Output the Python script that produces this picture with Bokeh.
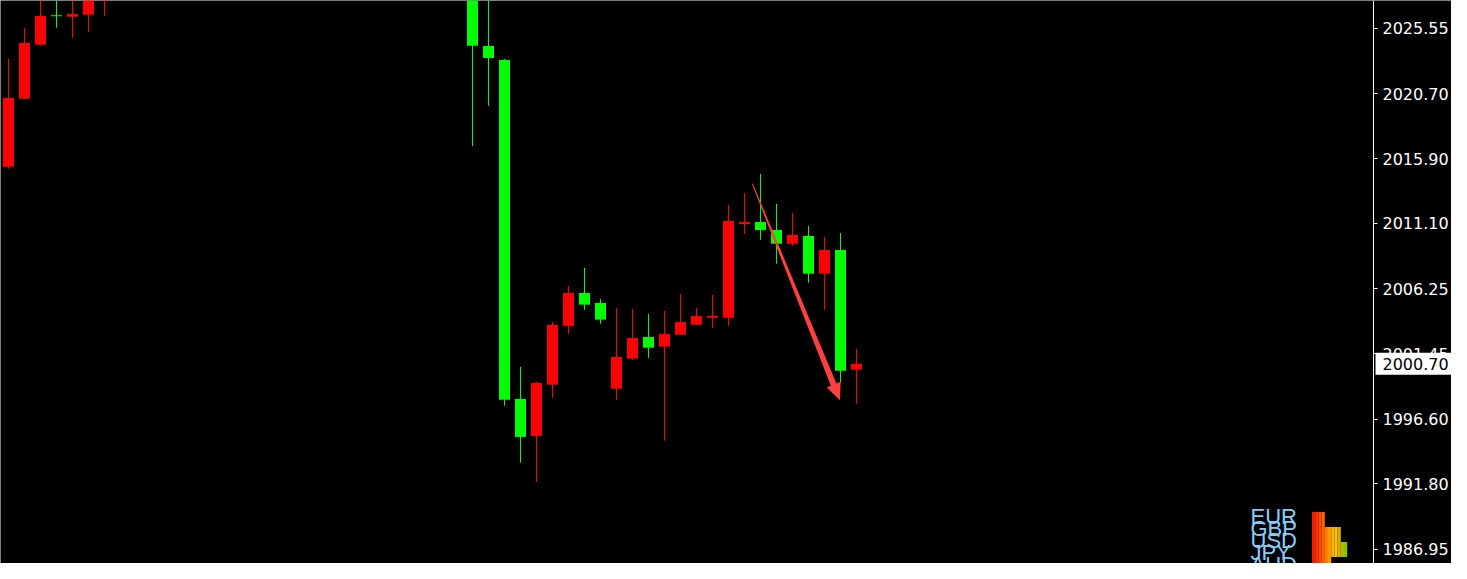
import math
from bokeh.plotting import figure
from bokeh.models import Range1d, FixedTicker, Label, ColumnDataSource, PrintfTickFormatter
from bokeh.embed import file_html
from bokeh.resources import INLINE

# ---------------- data ----------------
bar_index = [0, 1, 2, 3, 4, 5, 6] + list(range(29, 54))
opens = [2015.30, 2020.34, 2024.34, 2026.52, 2026.41, 2026.56, 2028.10,
         2028.60, 2024.24, 2023.20, 1998.09, 1995.35, 1999.15, 2003.50, 2005.94,
         2005.20, 1998.85, 2001.08, 2002.68, 2001.97, 2002.85, 2003.59, 2004.11,
         2004.11, 2011.05, 2011.20, 2010.61, 2009.59, 2010.16, 2007.37, 2009.13, 2000.26]
highs = [2023.28, 2025.57, 2028.30, 2028.10, 2028.20, 2028.40, 2029.40,
         2029.00, 2028.00, 2023.28, 2000.46, 1999.35, 2003.79, 2006.46, 2007.79,
         2005.50, 2004.83, 2004.76, 2004.39, 2004.61, 2005.87, 2004.83, 2005.79,
         2012.46, 2013.35, 2014.76, 2012.54, 2011.87, 2010.91, 2010.09, 2010.39, 2001.79]
lows = [2015.15, 2020.31, 2024.26, 2025.59, 2024.85, 2025.30, 2026.48,
        2016.83, 2019.82, 1997.59, 1993.37, 1991.97, 1998.19, 2002.93, 2004.71,
        2003.67, 1998.04, 2000.98, 2001.15, 1995.00, 2002.83, 2003.57, 2003.37,
        2003.52, 2010.34, 2009.89, 2008.11, 2009.45, 2006.71, 2004.71, 1999.30, 1997.74]
closes = [2020.39, 2024.46, 2026.46, 2026.45, 2026.61, 2027.90, 2028.90,
          2024.26, 2023.35, 1998.04, 1995.28, 1999.28, 2003.57, 2005.94, 2005.08,
          2003.97, 2001.20, 2002.61, 2001.89, 2002.91, 2003.79, 2004.24, 2004.24,
          2011.28, 2011.20, 2010.61, 2009.59, 2010.24, 2007.37, 2009.13, 2000.19, 2000.70]

tick_values = [1986.95, 1991.80, 1996.60, 2001.45, 2006.25, 2011.10, 2015.90, 2020.70, 2025.55]
last_price = 2000.70

arrow_start = (46.49, 2014.04)
arrow_end = (51.97, 1997.99)

currencies = ["EUR", "GBP", "USD", "JPY", "AUD"]
strength = [4, 9, 11, 6, 6]
strip_colors = ["#f01c00", "#ff3000", "#ff4a00", "#ff6400", "#ff7e00", "#ff9800",
                "#ffb200", "#ffc400", "#d8b000", "#a8c000", "#86c400"]

# ---------------- layout constants ----------------
BAR_PX = 16.0        # pixels per bar
PRICE_PX = 13.5      # pixels per price unit
FRAME_W, FRAME_H = 1451, 563
AXIS_PX = 1373.5     # position of the price scale line
PRICE_AT_TOP = 2027.572
HALF = 0.5           # compensate the renderer's half-pixel offset
x_start = (-8.5 + HALF) / BAR_PX
x_end = x_start + FRAME_W / BAR_PX
y_top = PRICE_AT_TOP + HALF / PRICE_PX
y_bottom = y_top - FRAME_H / PRICE_PX

UP = "#ff0000"
DOWN = "#00ff00"


def px_to_bar(px):
    return (px - 8.5) / BAR_PX


def py_to_price(py):
    return PRICE_AT_TOP - py / PRICE_PX


p = figure(frame_width=FRAME_W, frame_height=FRAME_H,
           x_range=Range1d(x_start, x_end), y_range=Range1d(y_bottom, y_top),
           output_backend="svg", toolbar_location=None,
           x_axis_location=None, y_axis_location="right",
           background_fill_color="black", border_fill_color="black",
           outline_line_color=None,
           min_border_left=0, min_border_top=0, min_border_bottom=0, min_border_right=0)
p.title.visible = False
p.xgrid.visible = False
p.ygrid.visible = False

ax = p.yaxis[0]
ax.fixed_location = px_to_bar(AXIS_PX)
ax.ticker = FixedTicker(ticks=tick_values)
ax.formatter = PrintfTickFormatter(format="%.2f")
ax.axis_line_color = "white"
ax.axis_line_width = 1
ax.major_tick_line_color = "white"
ax.major_tick_in = 0
ax.major_tick_out = 4
ax.minor_tick_line_color = None
ax.major_label_text_color = "white"
ax.major_label_text_font = "DejaVu Sans"
ax.major_label_text_font_size = "16px"
ax.major_label_standoff = 5

# ---------------- candles ----------------
colors = [UP if c >= o else DOWN for o, c in zip(opens, closes)]
src = ColumnDataSource(dict(
    x=bar_index, high=highs, low=lows,
    top=[max(o, c) for o, c in zip(opens, closes)],
    bottom=[min(o, c) for o, c in zip(opens, closes)],
    color=colors))
# wicks (1 px wide) and bodies (11 px wide)
p.vbar(x="x", width=1 / BAR_PX, top="high", bottom="low",
       fill_color="color", line_color=None, source=src)
p.vbar(x="x", width=11 / BAR_PX, top="top", bottom="bottom",
       fill_color="color", line_color=None, source=src)

# ---------------- arrow ----------------
def arrow_polygon(start, end, tail_w, shaft_w, head_w, head_len):
    ax_, ay_ = start[0] * BAR_PX, start[1] * PRICE_PX
    bx_, by_ = end[0] * BAR_PX, end[1] * PRICE_PX
    dx, dy = bx_ - ax_, by_ - ay_
    L = math.hypot(dx, dy)
    ux, uy = dx / L, dy / L
    nx, ny = -uy, ux
    cx, cy = bx_ - head_len * ux, by_ - head_len * uy
    pts = [
        (ax_ + tail_w / 2 * nx, ay_ + tail_w / 2 * ny),
        (cx + shaft_w / 2 * nx, cy + shaft_w / 2 * ny),
        (cx + head_w / 2 * nx, cy + head_w / 2 * ny),
        (bx_, by_),
        (cx - head_w / 2 * nx, cy - head_w / 2 * ny),
        (cx - shaft_w / 2 * nx, cy - shaft_w / 2 * ny),
        (ax_ - tail_w / 2 * nx, ay_ - tail_w / 2 * ny),
    ]
    return [q[0] / BAR_PX for q in pts], [q[1] / PRICE_PX for q in pts]

axs, ays = arrow_polygon(arrow_start, arrow_end, 1.0, 6.0, 15.0, 17.0)
p.patch(axs, ays, fill_color="#ff4040", line_color=None)

# ---------------- currency strength widget ----------------
STRIP_W = 3.2
WIDGET_LEFT = 1312
ROW_TOP0 = 511
ROW_H = 15
ql, qr, qt, qb, qc = [], [], [], [], []
for r, n in enumerate(strength):
    for k in range(n):
        ql.append(px_to_bar(WIDGET_LEFT + k * STRIP_W))
        qr.append(px_to_bar(WIDGET_LEFT + (k + 1) * STRIP_W))
        qt.append(py_to_price(ROW_TOP0 + r * ROW_H))
        qb.append(py_to_price(ROW_TOP0 + (r + 1) * ROW_H))
        qc.append(strip_colors[k])
p.quad(left=ql, right=qr, top=qt, bottom=qb, fill_color=qc, line_color=None)

for r, cur in enumerate(currencies):
    baseline = 516 + r * 12
    p.add_layout(Label(x=1250, y=FRAME_H - baseline, x_units="screen", y_units="screen",
                       text=cur, text_color="#87cefa", text_font="Liberation Sans",
                       text_font_size="22px", text_baseline="alphabetic", text_align="left"))

# ---------------- last price label ----------------
p.add_layout(Label(x=1375, y=last_price, x_units="screen", y_units="data",
                   text="%.2f" % last_price, text_color="black",
                   text_font="DejaVu Sans", text_font_size="16px",
                   text_baseline="middle", text_align="left",
                   background_fill_color="white",
                   padding=(7, 5)))

open("out.html", "w").write(file_html(p, INLINE))
